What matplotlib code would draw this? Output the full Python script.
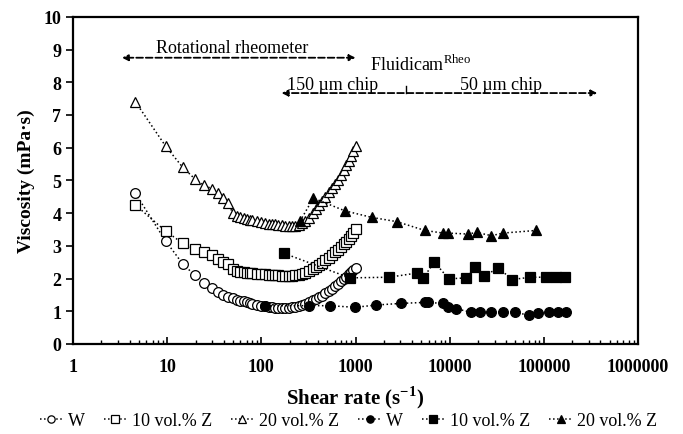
import matplotlib
matplotlib.use("Agg")
import matplotlib.pyplot as plt
from matplotlib.ticker import LogLocator, NullFormatter, FixedLocator

plt.rcParams['font.family'] = ['Liberation Serif', 'DejaVu Serif']
plt.rcParams['mathtext.fontset'] = 'custom'
plt.rcParams['mathtext.rm'] = 'Liberation Serif'
plt.rcParams['mathtext.bf'] = 'Liberation Serif:bold'

# rotational rheometer (open markers)
rot_x = [4.6, 9.6, 14.6, 19.6, 24.6, 29.6, 34.6, 39.6, 44.6, 49.6, 55, 60, 65, 70, 75,
         80, 90, 100, 110, 120, 130, 140, 150, 165, 180, 195, 210, 230, 250, 270, 290,
         320, 350, 380, 410, 440, 480, 520, 560, 600, 650, 700, 750, 800, 850, 900, 950, 1000]
rot_w = [4.6, 3.15, 2.45, 2.1, 1.85, 1.7, 1.6, 1.5, 1.45, 1.4, 1.35, 1.32, 1.3, 1.27, 1.25,
         1.22, 1.2, 1.17, 1.15, 1.13, 1.12, 1.11, 1.1, 1.1, 1.1, 1.11, 1.12, 1.14, 1.17, 1.2, 1.23,
         1.28, 1.33, 1.38, 1.43, 1.48, 1.55, 1.62, 1.69, 1.76, 1.84, 1.92, 1.99, 2.06, 2.13, 2.2, 2.26, 2.32]
rot_10 = [4.25, 3.45, 3.08, 2.9, 2.8, 2.72, 2.6, 2.52, 2.45, 2.3, 2.22, 2.2, 2.19, 2.18, 2.17,
          2.16, 2.15, 2.15, 2.13, 2.12, 2.11, 2.1, 2.1, 2.09, 2.08, 2.08, 2.09, 2.1, 2.12, 2.15, 2.18,
          2.24, 2.3, 2.36, 2.42, 2.48, 2.56, 2.64, 2.72, 2.8, 2.88, 2.96, 3.05, 3.13, 3.22, 3.31, 3.4, 3.5]
rot_20 = [7.4, 6.05, 5.4, 5.05, 4.85, 4.75, 4.6, 4.45, 4.3, 4.0, 3.92, 3.88, 3.85, 3.82, 3.8,
          3.78, 3.75, 3.72, 3.7, 3.68, 3.67, 3.66, 3.65, 3.63, 3.62, 3.61, 3.61, 3.62, 3.65, 3.7, 3.76,
          3.86, 4.0, 4.12, 4.24, 4.36, 4.5, 4.64, 4.76, 4.88, 5.02, 5.18, 5.32, 5.47, 5.6, 5.75, 5.9, 6.05]

# Fluidicam (filled markers)
flu_w_x = [110, 322, 535, 985, 1670, 3030, 5450, 5850, 8400, 9600, 11700, 16700, 20800,
           27800, 37000, 49000, 69000, 87000, 115000, 142000, 174000]
flu_w = [1.17, 1.17, 1.17, 1.12, 1.19, 1.24, 1.27, 1.27, 1.24, 1.12, 1.08, 0.97, 0.97,
         0.97, 0.97, 0.97, 0.88, 0.95, 0.97, 0.97, 0.97]
flu_10_x = [174, 870, 2270, 4550, 5200, 6900, 9800, 15100, 18600, 23000, 33000, 46500,
            72000, 105000, 135000, 170000]
flu_10 = [2.77, 2.02, 2.04, 2.17, 2.01, 2.5, 1.99, 2.02, 2.34, 2.09, 2.31, 1.97,
          2.04, 2.04, 2.04, 2.04]
flu_20_x = [257, 357, 770, 1480, 2740, 5450, 8500, 9600, 15600, 19300, 27800, 37000, 83000]
flu_20 = [3.75, 4.46, 4.07, 3.87, 3.74, 3.47, 3.39, 3.39, 3.36, 3.41, 3.31, 3.39, 3.47]

fig = plt.figure(figsize=(6.83, 4.35), dpi=100)
ax = fig.add_axes([0.107, 0.207, 0.827, 0.752])

ls = dict(linestyle=':', color='black', linewidth=1.1, markeredgecolor='black', markeredgewidth=0.9)
ax.plot(rot_x, rot_w, marker='o', markersize=7, markerfacecolor='white', label='W', **ls)
ax.plot(rot_x, rot_10, marker='s', markersize=7, markerfacecolor='white', label='10 vol.% Z', **ls)
ax.plot(rot_x, rot_20, marker='^', markersize=7.5, markerfacecolor='white', label='20 vol.% Z', **ls)
ax.plot(flu_w_x, flu_w, marker='o', markersize=7, markerfacecolor='black', label='W', **ls)
ax.plot(flu_10_x, flu_10, marker='s', markersize=7, markerfacecolor='black', label='10 vol.% Z', **ls)
ax.plot(flu_20_x, flu_20, marker='^', markersize=7.5, markerfacecolor='black', label='20 vol.% Z', **ls)

ax.set_xscale('log')
ax.set_xlim(1, 1e6)
ax.set_ylim(0, 10)
ax.set_yticks(range(0, 11))
ax.xaxis.set_major_locator(FixedLocator([1, 10, 100, 1000, 1e4, 1e5, 1e6]))
ax.set_xticklabels(['1', '10', '100', '1000', '10000', '100000', '1000000'])
ax.xaxis.set_minor_locator(LogLocator(base=10, subs=range(2, 10), numticks=20))
ax.xaxis.set_minor_formatter(NullFormatter())
ax.tick_params(axis='x', which='major', direction='in', length=5, width=1.2, pad=10)
ax.tick_params(axis='x', which='minor', direction='in', length=3, width=1.0)
ax.tick_params(axis='y', which='major', direction='out', length=5, width=1.2)
for lab in ax.get_xticklabels() + ax.get_yticklabels():
    lab.set_fontsize(13)
    lab.set_fontweight('bold')
for sp in ax.spines.values():
    sp.set_linewidth(1.6)

ax.set_xlabel(r'Shear rate (s$^{\mathbf{-1}}$)', fontsize=15, fontweight='bold', labelpad=6)
ax.set_ylabel('Viscosity (mPa·s)', fontsize=14, fontweight='bold', labelpad=6)

# annotations
arrow = dict(arrowstyle='<|-|>', linestyle='--', color='black', linewidth=1.3,
             mutation_scale=9, shrinkA=0, shrinkB=0)
ax.annotate('', xy=(3.3, 8.75), xytext=(1000, 8.75), arrowprops=arrow)
ax.annotate('', xy=(164, 7.67), xytext=(370000, 7.67), arrowprops=arrow)
ax.plot([3400, 3400], [7.67, 7.88], color='black', linewidth=1.0)
ax.text(49, 9.05, 'Rotational rheometer', fontsize=13, ha='center', va='center')
ax.text(1420, 8.55, r'Fluidicam$^{\mathregular{Rheo}}$', fontsize=13, ha='left', va='center')
ax.text(575, 7.93, '150 µm chip', fontsize=13, ha='center', va='center')
ax.text(35000, 7.93, '50 µm chip', fontsize=13, ha='center', va='center')

fig.legend(loc='center', bbox_to_anchor=(0.51, 0.03), ncol=6, frameon=False, fontsize=13,
           handlelength=1.3, handletextpad=0.25, columnspacing=1.05, markerscale=0.75)

fig.savefig('out.png', dpi=100)
